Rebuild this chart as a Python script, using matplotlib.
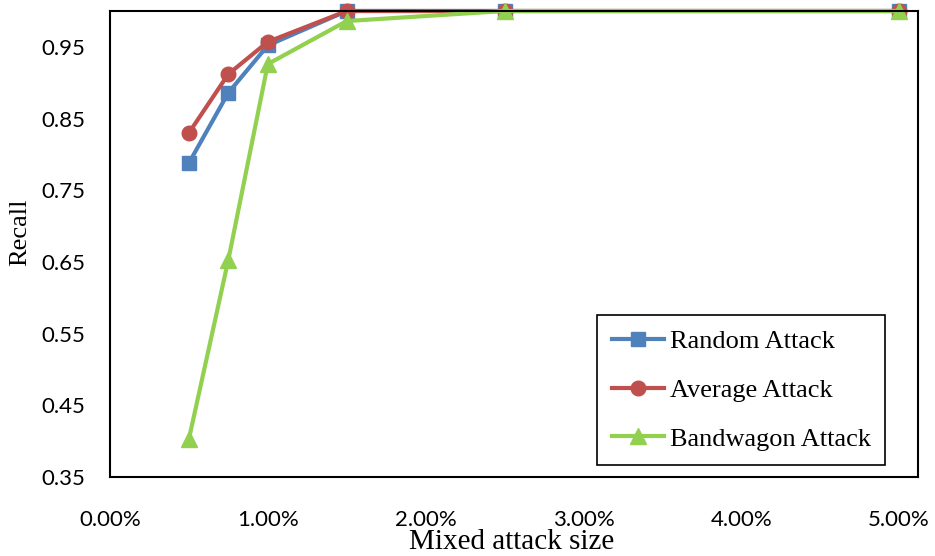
import matplotlib
matplotlib.use('Agg')
import matplotlib.pyplot as plt
from matplotlib.ticker import FuncFormatter

# attack size in percent
attack_size = [0.5, 0.75, 1.0, 1.5, 2.5, 5.0]
random_attack = [0.788, 0.886, 0.952, 1.0, 1.0, 1.0]
average_attack = [0.830, 0.912, 0.957, 1.0, 1.0, 1.0]
bandwagon_attack = [0.403, 0.653, 0.926, 0.986, 1.0, 1.0]

y_ticks = [0.35, 0.45, 0.55, 0.65, 0.75, 0.85, 0.95]
x_ticks = [0, 1, 2, 3, 4, 5]

tick_font = ['Lato', 'DejaVu Sans']
serif_font = ['Liberation Serif', 'DejaVu Serif']


def main():
    fig = plt.figure(figsize=(9.35, 5.56), dpi=100)
    ax = fig.add_axes([110/935, 79/556, 808/935, 466/556])

    ax.plot(attack_size, random_attack, color='#4F81BD', marker='s',
            markersize=10, linewidth=3, label='Random Attack', clip_on=False)
    ax.plot(attack_size, average_attack, color='#C0504D', marker='o',
            markersize=10.5, linewidth=3, label='Average Attack', clip_on=False)
    ax.plot(attack_size, bandwagon_attack, color='#92D050', marker='^',
            markersize=11, linewidth=3, label='Bandwagon Attack', clip_on=False)

    ax.set_xlim(0, 5.12)
    ax.set_ylim(0.35, 1.0)
    ax.set_xticks(x_ticks)
    ax.set_yticks(y_ticks)
    ax.xaxis.set_major_formatter(FuncFormatter(lambda v, p: '%.2f%%' % v))
    ax.yaxis.set_major_formatter(FuncFormatter(lambda v, p: '%.2f' % v))
    ax.tick_params(axis='y', length=0, pad=18)
    ax.tick_params(axis='x', length=0, pad=24)
    for lbl in ax.get_xticklabels() + ax.get_yticklabels():
        lbl.set_family(tick_font)
        lbl.set_fontsize(16)

    for sp in ax.spines.values():
        sp.set_linewidth(1.5)
        sp.set_color('black')

    # axis titles placed by hand, like the reference
    fig.text(512/935, 7/556, 'Mixed attack size', family=serif_font,
             fontsize=21, ha='center', va='baseline')
    fig.text(20/935, 324/556, 'Recall', family=serif_font, fontsize=19,
             rotation=90, ha='center', va='center')

    leg = ax.legend(loc='upper left', bbox_to_anchor=(597/935, 1 - 315/556),
                    bbox_transform=fig.transFigure,
                    prop={'family': serif_font, 'size': 19},
                    fancybox=False, edgecolor='black', framealpha=1,
                    handlelength=2.0, handletextpad=0.2, labelspacing=0.96,
                    borderpad=0.55, borderaxespad=0)
    leg.get_frame().set_linewidth(1.2)

    fig.savefig('out.png', dpi=100)


if __name__ == "__main__":
    main()
